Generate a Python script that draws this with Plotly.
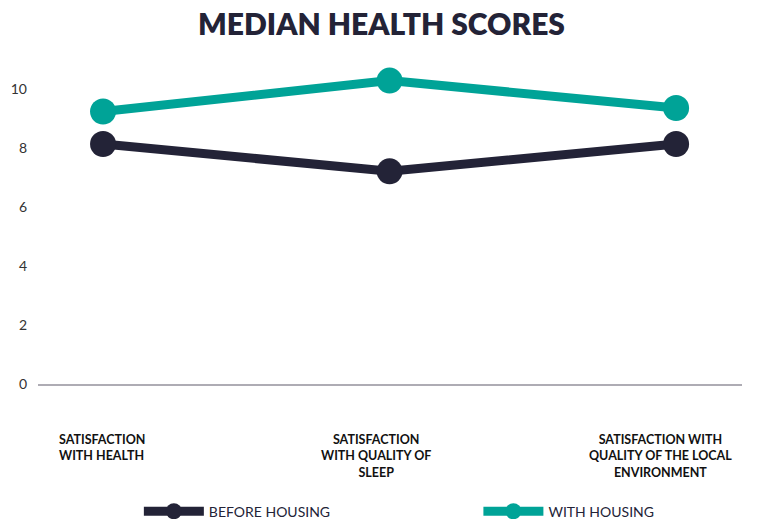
import plotly.graph_objects as go

categories = ["Health", "Sleep", "Environment"]
category_labels = [
    "<b>SATISFACTION<br>WITH HEALTH</b>",
    "<b>SATISFACTION<br>WITH QUALITY OF<br>SLEEP</b>",
    "<b>SATISFACTION WITH<br>QUALITY OF THE LOCAL<br>ENVIRONMENT</b>",
]
before_housing = [8.15, 7.22, 8.15]
with_housing = [9.25, 10.3, 9.37]
y_ticks = [0, 2, 4, 6, 8, 10]

DARK = "#232337"
TEAL = "#00A397"

fig = go.Figure()
fig.add_trace(go.Scatter(
    x=categories, y=before_housing, name="BEFORE HOUSING",
    mode="lines+markers",
    line=dict(color=DARK, width=9),
    marker=dict(color=DARK, size=26),
    legend="legend",
))
fig.add_trace(go.Scatter(
    x=categories, y=with_housing, name="WITH HOUSING",
    mode="lines+markers",
    line=dict(color=TEAL, width=9),
    marker=dict(color=TEAL, size=26),
    legend="legend2",
))

label_align = [("left", "left", -46), ("center", "center", -14), ("center", "center", -16)]
for cat, lab, (align, xanchor, shift) in zip(categories, category_labels, label_align):
    fig.add_annotation(
        x=cat, y=0, xref="x", yref="y", yanchor="top", yshift=-46,
        xanchor=xanchor, align=align, xshift=shift,
        text=lab, showarrow=False,
        font=dict(size=12.5, color="#111111", family="Lato, sans-serif", weight=900),
    )

legend_common = dict(
    orientation="h", xref="container", xanchor="left",
    yref="container", y=0.045, yanchor="top",
    font=dict(size=14, color=DARK), itemwidth=60,
)

fig.update_layout(
    width=763, height=519,
    margin=dict(l=38, r=21, t=60, b=135),
    paper_bgcolor="white", plot_bgcolor="white",
    font=dict(family="Lato, Noto Sans, sans-serif", color=DARK),
    title=dict(text="MEDIAN HEALTH SCORES", x=0.5, xanchor="center",
               y=0.952, yanchor="middle",
               font=dict(size=30, color=DARK, family="Lato, sans-serif", weight=800)),
    xaxis=dict(
        type="category", range=[-0.227, 2.23],
        showgrid=False, zeroline=False, automargin=False,
        showline=True, linecolor="#aeacb4", linewidth=2,
        ticks="", showticklabels=False,
    ),
    yaxis=dict(
        range=[0, 11], tickvals=y_ticks, automargin=False,
        showgrid=False, zeroline=False, showline=False,
        ticks="", ticklabelstandoff=10,
        tickfont=dict(size=14, color="#333333"),
    ),
    legend=dict(x=0.182, **legend_common),
    legend2=dict(x=0.627, **legend_common),
    showlegend=True,
)

fig.write_html("out.html", config={"displayModeBar": False},
               post_script="document.body.style.margin='0';document.body.style.padding='0';")
